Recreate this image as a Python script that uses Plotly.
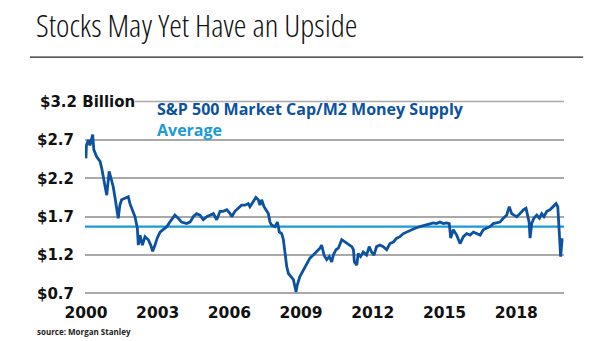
import plotly.graph_objects as go

# S&P 500 market cap / M2 money supply, decimal years
years = [
    2000.00, 2000.02, 2000.10, 2000.17, 2000.28, 2000.33, 2000.45, 2000.51, 2000.59, 2000.66,
    2000.72, 2000.79, 2000.87, 2000.97, 2001.05, 2001.14, 2001.21, 2001.28, 2001.35, 2001.42,
    2001.49, 2001.63, 2001.77, 2001.84, 2001.95, 2002.05, 2002.15, 2002.19, 2002.26, 2002.36,
    2002.47, 2002.61, 2002.71, 2002.79, 2002.89, 2002.98, 2003.10, 2003.23, 2003.38, 2003.51,
    2003.72, 2003.86, 2004.00, 2004.21, 2004.35, 2004.42, 2004.49, 2004.63, 2004.77, 2004.91,
    2005.05, 2005.19, 2005.33, 2005.47, 2005.61, 2005.74, 2005.89, 2006.03, 2006.10, 2006.23,
    2006.37, 2006.51, 2006.65, 2006.79, 2006.86, 2007.00, 2007.11, 2007.21, 2007.28, 2007.35,
    2007.45, 2007.53, 2007.63, 2007.70, 2007.77, 2007.91, 2008.01, 2008.09, 2008.19, 2008.26,
    2008.33, 2008.40, 2008.47, 2008.57, 2008.68, 2008.79, 2008.84, 2008.95, 2009.09, 2009.23,
    2009.37, 2009.51, 2009.65, 2009.79, 2009.86, 2009.96, 2010.07, 2010.18, 2010.28, 2010.35,
    2010.46, 2010.56, 2010.70, 2010.84, 2010.98, 2011.12, 2011.19, 2011.23, 2011.33, 2011.39,
    2011.49, 2011.60, 2011.74, 2011.85, 2011.95, 2012.05, 2012.16, 2012.30, 2012.44, 2012.58,
    2012.72, 2012.86, 2013.00, 2013.14, 2013.28, 2013.42, 2013.56, 2013.77, 2013.97, 2014.18,
    2014.39, 2014.53, 2014.67, 2014.81, 2014.95, 2015.09, 2015.20, 2015.26, 2015.37, 2015.51,
    2015.65, 2015.79, 2015.93, 2016.07, 2016.21, 2016.35, 2016.49, 2016.62, 2016.77, 2016.90,
    2017.04, 2017.18, 2017.32, 2017.46, 2017.60, 2017.71, 2017.81, 2017.91, 2018.02, 2018.16,
    2018.30, 2018.41, 2018.46, 2018.54, 2018.58, 2018.65, 2018.74, 2018.86, 2018.97, 2019.07,
    2019.16, 2019.28, 2019.41, 2019.55, 2019.67, 2019.74, 2019.80, 2019.86, 2019.92, 2019.97,
]
ratio = [
    2.46, 2.63, 2.70, 2.63, 2.77, 2.57, 2.48, 2.46, 2.42, 2.33,
    2.20, 2.11, 1.98, 2.29, 2.20, 2.09, 1.96, 1.81, 1.68, 1.85,
    1.92, 1.94, 1.96, 1.87, 1.79, 1.70, 1.55, 1.33, 1.46, 1.33,
    1.44, 1.40, 1.33, 1.25, 1.33, 1.42, 1.50, 1.53, 1.57, 1.63,
    1.72, 1.68, 1.63, 1.61, 1.63, 1.66, 1.70, 1.74, 1.72, 1.66,
    1.70, 1.72, 1.74, 1.66, 1.77, 1.77, 1.79, 1.74, 1.70, 1.77,
    1.81, 1.85, 1.85, 1.87, 1.83, 1.90, 1.95, 1.92, 1.85, 1.92,
    1.83, 1.79, 1.74, 1.63, 1.59, 1.57, 1.63, 1.50, 1.48, 1.40,
    1.22, 1.05, 0.96, 0.92, 0.88, 0.72, 0.81, 0.92, 1.00, 1.09,
    1.16, 1.20, 1.24, 1.29, 1.33, 1.20, 1.14, 1.18, 1.11, 1.20,
    1.27, 1.29, 1.40, 1.37, 1.35, 1.31, 1.27, 1.11, 1.07, 1.22,
    1.18, 1.24, 1.20, 1.31, 1.24, 1.20, 1.31, 1.33, 1.31, 1.27,
    1.35, 1.37, 1.42, 1.44, 1.48, 1.50, 1.53, 1.55, 1.57, 1.59,
    1.61, 1.62, 1.61, 1.63, 1.61, 1.62, 1.61, 1.42, 1.53, 1.46,
    1.35, 1.44, 1.48, 1.46, 1.50, 1.48, 1.46, 1.53, 1.55, 1.57,
    1.61, 1.62, 1.63, 1.68, 1.72, 1.83, 1.74, 1.72, 1.70, 1.74,
    1.79, 1.81, 1.72, 1.63, 1.42, 1.61, 1.68, 1.72, 1.68, 1.74,
    1.70, 1.77, 1.79, 1.83, 1.87, 1.83, 1.53, 1.18, 1.40, 1.40,
]
average = 1.57

x_range = [1999.96, 2020.0]
y_range = [0.68, 3.22]
tick_years = [2000, 2003, 2006, 2009, 2012, 2015, 2018]
y_ticks = [0.7, 1.2, 1.7, 2.2, 2.7]
y_tick_text = ["$0.7", "$1.2", "$1.7", "$2.2", "$2.7"]
top_tick = 3.2
top_tick_text = "$3.2 Billion"
headline = "Stocks May Yet Have an Upside"
series_name = "S&P 500 Market Cap/M2 Money Supply"
average_name = "Average"

DARK_BLUE = "#0c52a0"
LIGHT_BLUE = "#1b9ad6"
GRID = "#a9a9a9"

fig = go.Figure()

fig.add_trace(go.Scatter(
    x=x_range, y=[average, average], mode="lines",
    line=dict(color=LIGHT_BLUE, width=2.2), hoverinfo="skip",
))
fig.add_trace(go.Scatter(
    x=years, y=ratio, mode="lines",
    line=dict(color=DARK_BLUE, width=2.8),
))

# top gridline starts after its long label
fig.add_shape(type="line", xref="paper", yref="y", x0=0.104, x1=1,
              y0=top_tick, y1=top_tick, line=dict(color=GRID, width=1.5), layer="below")
# rule under the headline
fig.add_shape(type="line", xref="paper", yref="paper", x0=-0.115, x1=1.04,
              y0=1.22, y1=1.22, line=dict(color="#222222", width=1.3))

fig.add_annotation(text=f'<span style="font-stretch:75%">{headline}</span>',
                   xref="paper", yref="paper",
                   x=-0.107, y=1.385, xanchor="left", yanchor="middle", showarrow=False,
                   font=dict(family="Open Sans", size=32, color="#111111", weight=300))
fig.add_annotation(text=top_tick_text, xref="paper", yref="y",
                   x=-0.098, y=top_tick, xanchor="left", yanchor="middle", showarrow=False,
                   font=dict(family="DejaVu Sans", size=15, color="#111111", weight="bold"))
# two-line key: series name over the average
fig.add_annotation(
    text=(f'<span style="color:{DARK_BLUE}">{series_name.replace("&", "&amp;")}</span><br>'
          f'<span style="color:{LIGHT_BLUE}">{average_name}</span>'),
    xref="paper", yref="paper", x=0.146, y=0.90, xanchor="left", yanchor="middle",
    align="left", showarrow=False,
    font=dict(family="Open Sans", size=16, color=DARK_BLUE, weight="bold"))
fig.add_annotation(text="source: Morgan Stanley", xref="paper", yref="paper",
                   x=-0.104, y=-0.185, xanchor="left", yanchor="middle", showarrow=False,
                   font=dict(family="Open Sans", size=8, color="#222222", weight="bold"))

fig.update_layout(
    width=605, height=341,
    margin=dict(l=85, r=41, t=100, b=46),
    paper_bgcolor="white", plot_bgcolor="white",
    showlegend=False,
    xaxis=dict(
        range=x_range, tickvals=tick_years, ticktext=[str(t) for t in tick_years],
        showgrid=False, zeroline=False, showline=False, ticks="", ticklabelstandoff=6,
        tickfont=dict(family="DejaVu Sans", size=15.5, color="#111111", weight="bold"),
    ),
    yaxis=dict(
        range=y_range, tickvals=y_ticks, ticktext=y_tick_text,
        showgrid=True, gridcolor=GRID, gridwidth=1.5, zeroline=False, showline=False,
        ticks="", ticklabelstandoff=10,
        tickfont=dict(family="DejaVu Sans", size=15, color="#111111", weight="bold"),
    ),
)

fig.write_html("out.html")
